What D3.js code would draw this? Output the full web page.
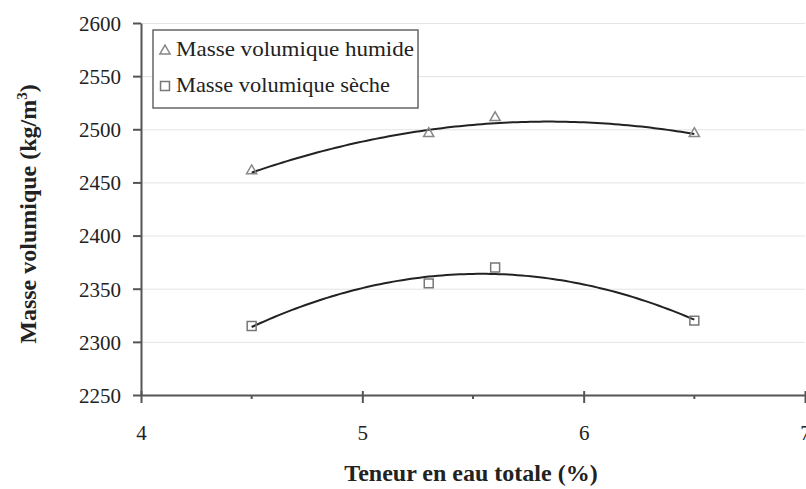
<!DOCTYPE html>
<html><head>
<meta charset="utf-8">
<script src="https://cdn.jsdelivr.net/npm/d3@7"></script>
<style>
  body { margin: 0; background: #fff; }
  .gridlines line { stroke: #e4e4e4; }
  .gridlines .domain { stroke: none; }
  .axis path, .axis line { stroke: #555; stroke-width: 2px; }
</style>
</head>
<body>
<svg id="chart" width="806" height="489"></svg>
<script>
  // data
  const teneur = [4.5, 5.3, 5.6, 6.5];
  const humide = [2460, 2495, 2510, 2495];
  const seche = [2315, 2355, 2370, 2320];
  const seriesNames = ["Masse volumique humide", "Masse volumique sèche"];
  const yTicks = [2250, 2300, 2350, 2400, 2450, 2500, 2550, 2600];
  const xTicks = [4, 5, 6, 7];
  const xMinorTicks = [4.5, 5.5, 6.5];

  const serif = "'Liberation Serif', 'DejaVu Serif', 'Times New Roman', serif";

  const svg = d3.select("svg#chart");
  const margins = {top: 23, right: 1, bottom: 94, left: 141};
  const width = +svg.attr("width");
  const height = +svg.attr("height");
  const chartWidth = width - margins.left - margins.right;
  const chartHeight = height - margins.top - margins.bottom;

  const xScale = d3.scaleLinear().domain([4, 7]).range([0, chartWidth]);
  const yScale = d3.scaleLinear().domain([2250, 2600]).range([chartHeight, 0]);

  const chart = svg.append("g").attr("transform", "translate(" + margins.left + "," + margins.top + ")");

  // gridlines
  chart.append("g")
       .attr("class", "gridlines")
       .call(d3.axisLeft(yScale).tickValues(yTicks).tickFormat("").tickSize(-chartWidth));

  // y axis
  let leftAxis = d3.axisLeft(yScale).tickValues(yTicks).tickFormat(d3.format("d"))
                   .tickSize(8).tickPadding(12).tickSizeOuter(0);
  let yAxis = chart.append("g").attr("class", "axis").call(leftAxis);
  yAxis.attr("font-family", serif).attr("font-size", 21);
  yAxis.selectAll("text").attr("fill", "#222").attr("dy", "0.35em");

  // x axis, ticks cross the line a bit
  let bottomAxis = d3.axisBottom(xScale).tickValues(xTicks).tickFormat(d3.format("d"))
                     .tickSize(8).tickPadding(22).tickSizeOuter(0);
  let xAxis = chart.append("g").attr("class", "axis")
       .attr("transform", "translate(0," + chartHeight + ")")
       .call(bottomAxis);
  xAxis.attr("font-family", serif).attr("font-size", 21);
  xAxis.selectAll("text").attr("fill", "#222");
  xAxis.selectAll(".tick line").attr("y1", -4);
  xAxis.selectAll(".minor").data(xMinorTicks).enter().append("line")
       .attr("class", "minor")
       .attr("x1", d => xScale(d)).attr("x2", d => xScale(d))
       .attr("y1", 0).attr("y2", 4)
       .attr("stroke", "#777").attr("stroke-width", 2);

  // quadratic least squares, like a spreadsheet trendline
  function polyFit(xs, ys) {
    let S = [[0,0,0],[0,0,0],[0,0,0]], b = [0,0,0];
    xs.forEach((x, i) => {
      const p = [1, x, x * x];
      for (let r = 0; r < 3; r++) {
        b[r] += p[r] * ys[i];
        for (let c = 0; c < 3; c++) S[r][c] += p[r] * p[c];
      }
    });
    for (let k = 0; k < 3; k++) {
      for (let r = k + 1; r < 3; r++) {
        const f = S[r][k] / S[k][k];
        for (let c = k; c < 3; c++) S[r][c] -= f * S[k][c];
        b[r] -= f * b[k];
      }
    }
    let a = [0,0,0];
    for (let r = 2; r >= 0; r--) {
      let s = b[r];
      for (let c = r + 1; c < 3; c++) s -= S[r][c] * a[c];
      a[r] = s / S[r][r];
    }
    return x => a[0] + a[1] * x + a[2] * x * x;
  }

  const line = d3.line().x(d => xScale(d[0])).y(d => yScale(d[1]));
  const xFine = d3.range(4.5, 6.5001, 0.02);

  [humide, seche].forEach(vals => {
    const f = polyFit(teneur, vals);
    chart.append("path")
         .attr("d", line(xFine.map(x => [x, f(x)])))
         .attr("fill", "none").attr("stroke", "#222").attr("stroke-width", 2);
  });

  // markers
  const tri = d3.symbol().type(d3.symbolTriangle).size(45);
  const sq = d3.symbol().type(d3.symbolSquare).size(80);
  chart.selectAll(".tri").data(teneur).enter().append("path")
       .attr("d", tri)
       .attr("transform", (d, i) => "translate(" + xScale(d) + "," + (yScale(humide[i]) - 1) + ")")
       .attr("fill", "none").attr("stroke", "#888").attr("stroke-width", 1.5);
  chart.selectAll(".sq").data(teneur).enter().append("path")
       .attr("d", sq)
       .attr("transform", (d, i) => "translate(" + xScale(d) + "," + yScale(seche[i]) + ")")
       .attr("fill", "none").attr("stroke", "#777").attr("stroke-width", 1.5);

  // legend
  const legend = svg.append("g").attr("transform", "translate(153,30)");
  legend.append("rect").attr("width", 265).attr("height", 78)
        .attr("fill", "#fff").attr("stroke", "#666").attr("stroke-width", 1.5);
  legend.append("path").attr("d", tri).attr("transform", "translate(12,21)")
        .attr("fill", "none").attr("stroke", "#888").attr("stroke-width", 1.5);
  legend.append("path").attr("d", sq).attr("transform", "translate(12,56)")
        .attr("fill", "none").attr("stroke", "#777").attr("stroke-width", 1.5);
  legend.selectAll("text.lab").data(seriesNames).enter().append("text")
        .attr("class", "lab")
        .attr("x", 23).attr("y", (d, i) => 26 + i * 36)
        .attr("textLength", (d, i) => i === 0 ? 238 : 214)
        .attr("lengthAdjust", "spacingAndGlyphs")
        .attr("font-family", serif).attr("font-size", 21).attr("fill", "#222")
        .text(d => d);

  // axis titles
  svg.append("text")
     .attr("transform", "translate(36,214) rotate(-90)")
     .attr("text-anchor", "middle")
     .attr("font-family", serif).attr("font-size", 24).attr("font-weight", "bold").attr("fill", "#222")
     .html("Masse volumique (kg/m<tspan dy='-9' font-size='15px'>3</tspan><tspan dy='9'>)</tspan>");

  svg.append("text")
     .attr("x", 471).attr("y", 481)
     .attr("text-anchor", "middle")
     .attr("font-family", serif).attr("font-size", 24).attr("font-weight", "bold").attr("fill", "#222")
     .text("Teneur en eau totale (%)");
</script>
</body></html>
